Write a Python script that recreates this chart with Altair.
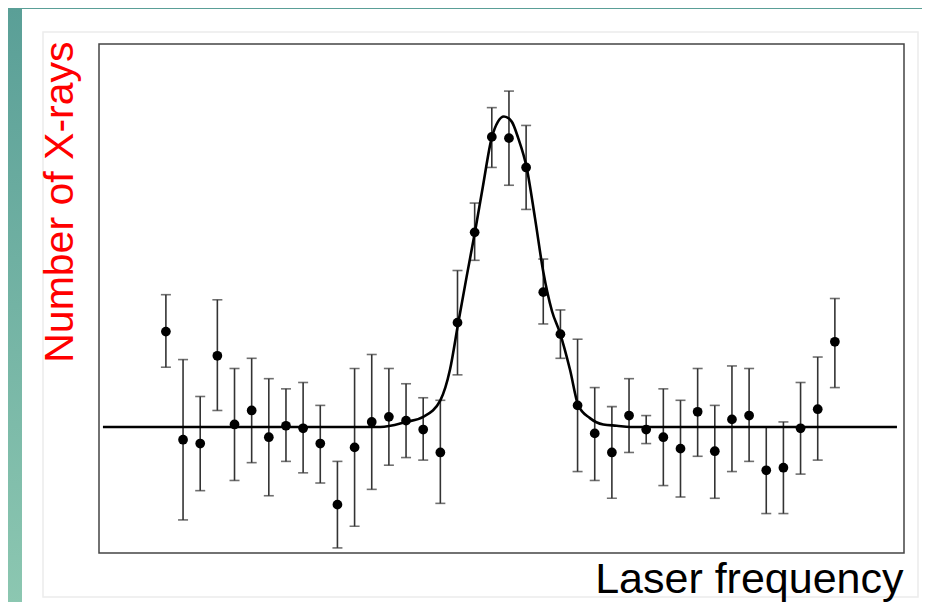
import altair as alt
import pandas as pd

# ---- data ----
freq = list(range(1, 41))
counts = [17.4, 8.9, 8.6, 15.5, 10.1, 11.2, 9.1, 10.0, 9.8, 8.6,
          3.8, 8.3, 10.3, 10.7, 10.4, 9.7, 7.9, 18.1, 25.2, 32.7,
          32.6, 30.3, 20.5, 17.2, 11.6, 9.4, 7.9, 10.8, 9.7, 9.1,
          8.2, 11.1, 8.0, 10.5, 10.8, 6.5, 6.7, 9.8, 11.3, 16.6]
err_high = [20.3, 15.2, 12.3, 19.9, 14.5, 15.3, 13.7, 12.9, 13.4, 11.6,
            7.2, 14.5, 15.6, 14.5, 13.3, 12.2, 12.0, 22.2, 27.5, 35.0,
            36.3, 33.6, 23.1, 19.1, 16.8, 13.0, 11.5, 13.7, 10.8, 12.9,
            12.0, 14.5, 11.6, 14.7, 14.5, 9.9, 10.3, 13.4, 15.4, 20.0]
err_low = [14.6, 2.6, 4.9, 11.2, 5.7, 7.1, 4.5, 7.2, 6.3, 5.5,
           0.4, 2.1, 5.0, 6.9, 7.5, 7.3, 3.9, 14.0, 23.0, 30.3,
           28.9, 27.0, 18.0, 15.3, 6.4, 5.7, 4.3, 7.9, 8.6, 5.3,
           4.4, 7.6, 4.3, 6.4, 7.2, 3.1, 3.1, 6.2, 7.3, 13.0]

fit_freq = [-2.67, 13.5, 15.0, 16.0, 17.0, 17.56, 18.04, 18.53, 19.02, 19.48,
            19.99, 20.36, 20.71, 21.16, 21.54, 22.03, 22.52, 23.0, 23.51, 23.97,
            24.56, 25.04, 25.72, 26.5, 27.28, 28.06, 43.62]
fit_counts = [9.9, 9.9, 10.3, 10.7, 12.0, 14.4, 18.05, 21.7, 25.25, 28.8,
              32.6, 33.9, 34.3, 33.9, 32.6, 30.3, 26.3, 22.1, 19.0, 17.3,
              14.4, 11.6, 10.6, 10.1, 10.0, 9.9, 9.9]

x_title = "Laser frequency"
y_title = "Number of X-rays"

# ---- tables ----
pts = pd.DataFrame({"f": freq, "n": counts, "hi": err_high, "lo": err_low})
fit = pd.DataFrame({"f": fit_freq, "n": fit_counts})
one = pd.DataFrame({"k": [0]})

W, H = 805, 509
xs = alt.Scale(domain=[-2.9, 44.03], nice=False, zero=False)
ys = alt.Scale(domain=[0, 40], nice=False, zero=False)

x_axis = alt.Axis(title=x_title, labels=False, ticks=False, domain=False, grid=False,
                  titleFontSize=43, titleFont="Liberation Sans", titleFontWeight="normal",
                  titleColor="black", titleAlign="right", titleBaseline="alphabetic",
                  titleX=W - 1, titleY=39, titleAngle=0, zindex=2)
y_axis = alt.Axis(title=y_title, labels=False, ticks=False, domain=False, grid=False,
                  titleFontSize=41, titleFont="Liberation Sans", titleFontWeight="normal",
                  titleColor="#ff0000", titleAlign="right", titleBaseline="alphabetic",
                  titleX=-27, titleY=-3, titleAngle=270, zindex=2)

# decorations (slide background)
left_strip = alt.Chart(one).mark_rect(
    color=alt.Gradient(gradient="linear", x1=0, y1=0, x2=0, y2=1,
                       stops=[alt.GradientStop(color="#5a9f97", offset=0),
                              alt.GradientStop(color="#8cc7b1", offset=1)])
).encode(x=alt.value(-91), x2=alt.value(-77), y=alt.value(-36), y2=alt.value(560))

panel = alt.Chart(one).mark_rect(color="white").encode(
    x=alt.value(-77), x2=alt.value(830), y=alt.value(-35), y2=alt.value(560))

inner = alt.Chart(one).mark_rect(fill="white", stroke="#ececec", strokeWidth=1.5).encode(
    x=alt.value(-56), x2=alt.value(819), y=alt.value(-12), y2=alt.value(553))

frame = alt.Chart(one).mark_rect(fill="white", stroke="#444444", strokeWidth=1.5).encode(
    x=alt.value(0), x2=alt.value(W), y=alt.value(0), y2=alt.value(H))

base = alt.Chart(pts)

bars = base.mark_rule(color="#333333", strokeWidth=1.6).encode(
    x=alt.X("f:Q", scale=xs, axis=x_axis),
    y=alt.Y("lo:Q", scale=ys, axis=y_axis),
    y2="hi:Q")

cap_hi = base.mark_tick(color="#333333", orient="horizontal", size=10, thickness=1.6).encode(
    x=alt.X("f:Q", scale=xs), y=alt.Y("hi:Q", scale=ys))
cap_lo = base.mark_tick(color="#333333", orient="horizontal", size=10, thickness=1.6).encode(
    x=alt.X("f:Q", scale=xs), y=alt.Y("lo:Q", scale=ys))

line = alt.Chart(fit).mark_line(color="black", strokeWidth=2.6, interpolate="monotone").encode(
    x=alt.X("f:Q", scale=xs), y=alt.Y("n:Q", scale=ys))

dots = base.mark_point(filled=True, color="black", size=95, opacity=1, shape="circle").encode(
    x=alt.X("f:Q", scale=xs), y=alt.Y("n:Q", scale=ys))

chart = alt.layer(left_strip, panel, inner, frame, bars, cap_hi, cap_lo, line, dots).properties(
    width=W, height=H,
    autosize=alt.AutoSizeParams(type="none"),
    padding={"left": 91, "top": 36, "right": 18, "bottom": 49},
    background="#5a9f97",
).configure_view(stroke=None)

chart.save("out.html", embed_options={"renderer": "svg", "actions": False})
